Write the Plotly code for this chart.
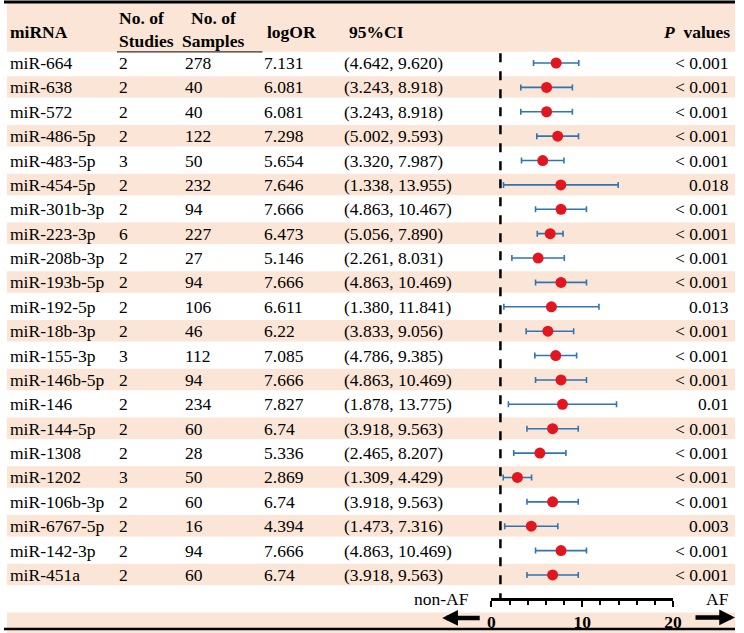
import plotly.graph_objects as go

mirna = ["miR-664", "miR-638", "miR-572", "miR-486-5p", "miR-483-5p", "miR-454-5p",
         "miR-301b-3p", "miR-223-3p", "miR-208b-3p", "miR-193b-5p", "miR-192-5p",
         "miR-18b-3p", "miR-155-3p", "miR-146b-5p", "miR-146", "miR-144-5p", "miR-1308",
         "miR-1202", "miR-106b-3p", "miR-6767-5p", "miR-142-3p", "miR-451a"]
n_studies = [2, 2, 2, 2, 3, 2, 2, 6, 2, 2, 2, 2, 3, 2, 2, 2, 2, 3, 2, 2, 2, 2]
n_samples = [278, 40, 40, 122, 50, 232, 94, 227, 27, 94, 106, 46, 112, 94, 234, 60, 28, 50, 60, 16, 94, 60]
log_or = [7.131, 6.081, 6.081, 7.298, 5.654, 7.646, 7.666, 6.473, 5.146, 7.666, 6.611,
          6.22, 7.085, 7.666, 7.827, 6.74, 5.336, 2.869, 6.74, 4.394, 7.666, 6.74]
ci_low = [4.642, 3.243, 3.243, 5.002, 3.320, 1.338, 4.863, 5.056, 2.261, 4.863, 1.380,
          3.833, 4.786, 4.863, 1.878, 3.918, 2.465, 1.309, 3.918, 1.473, 4.863, 3.918]
ci_high = [9.620, 8.918, 8.918, 9.593, 7.987, 13.955, 10.467, 7.890, 8.031, 10.469, 11.841,
           9.056, 9.385, 10.469, 13.775, 9.563, 8.207, 4.429, 9.563, 7.316, 10.469, 9.563]
p_values = ["< 0.001", "< 0.001", "< 0.001", "< 0.001", "< 0.001", "0.018", "< 0.001",
            "< 0.001", "< 0.001", "< 0.001", "0.013", "< 0.001", "< 0.001", "< 0.001",
            "0.01", "< 0.001", "< 0.001", "< 0.001", "< 0.001", "0.003", "< 0.001", "< 0.001"]
x_ticks = [0, 10, 20]
null_line = 1

W, H = 744, 633
FONT = "Liberation Serif"
FS = 17.5
PEACH = "#FBE5D6"
n = len(mirna)
rows = list(range(n))

fig = go.Figure()
fig.add_trace(go.Scatter(
    x=log_or, y=rows, mode="markers",
    marker=dict(color="#E3161F", size=11),
    error_x=dict(type="data", symmetric=False,
                 array=[h - m for h, m in zip(ci_high, log_or)],
                 arrayminus=[m - l for m, l in zip(log_or, ci_low)],
                 color="#2E75B6", thickness=1.6, width=3),
    cliponaxis=False, showlegend=False, hoverinfo="skip"))

shapes = []
# header background
shapes.append(dict(type="rect", xref="paper", yref="y", x0=0.004, x1=1, y0=-2.46, y1=-0.46,
                   fillcolor=PEACH, line_width=0, layer="below"))
for i in range(n + 2):
    if i % 2 == 1:
        shapes.append(dict(type="rect", xref="paper", yref="y", x0=0.004, x1=1,
                           y0=i - 0.46, y1=i + 0.42, fillcolor=PEACH, line_width=0, layer="below"))
# top / bottom rules
shapes.append(dict(type="line", xref="paper", yref="paper", x0=0, x1=1, y0=1 - 2 / H, y1=1 - 2 / H,
                   line=dict(color="black", width=3)))
shapes.append(dict(type="line", xref="paper", yref="paper", x0=0, x1=1, y0=1 - 629 / H, y1=1 - 629 / H,
                   line=dict(color="black", width=2.5)))
# underline under "No. of" columns
shapes.append(dict(type="line", xref="paper", yref="y", x0=115 / W, x1=263 / W, y0=-0.46, y1=-0.46,
                   line=dict(color="#333333", width=1.2)))
# null line
shapes.append(dict(type="line", xref="x", yref="y", x0=null_line, x1=null_line, y0=-0.4, y1=21.98,
                   line=dict(color="black", width=2.5, dash="dash")))

ann = []
def txt(x_px, y, s, anchor="left", bold=False, size=FS):
    if bold:
        s = "<b>" + s + "</b>"
    ann.append(dict(x=x_px / W, y=y, xref="paper", yref="y", text=s, showarrow=False,
                    xanchor=anchor, yanchor="middle", font=dict(family=FONT, size=size, color="black")))

# header
txt(4, -1.27, "miRNA", bold=True)
txt(115, -1.85, "No. of", bold=True)
txt(115, -0.92, "Studies", bold=True)
txt(213, -1.85, "No. of", anchor="center", bold=True)
txt(213, -0.92, "Samples", anchor="center", bold=True)
txt(266, -1.27, "logOR", bold=True)
txt(349, -1.27, "95%CI", bold=True)
txt(741, -1.27, "<i>P</i>  values", anchor="right", bold=True)

for i in rows:
    txt(4, i, mirna[i])
    txt(115, i, str(n_studies[i]))
    txt(182, i, str(n_samples[i]))
    txt(263, i, str(log_or[i]))
    txt(344, i, f"({ci_low[i]:.3f}, {ci_high[i]:.3f})")
    txt(740, i, p_values[i], anchor="right")

txt(445, 21.98, "non-AF", anchor="center")
txt(726, 21.98, "AF", anchor="center")

# arrows
ann.append(dict(x=446 / W, y=22.76, xref="paper", yref="y", ax=39, ay=0,
                axref="pixel", ayref="pixel", text="", showarrow=True,
                arrowhead=2, arrowsize=0.7, arrowwidth=4.5, arrowcolor="black"))
ann.append(dict(x=744 / W, y=22.74, xref="paper", yref="y", ax=-41, ay=0,
                axref="pixel", ayref="pixel", text="", showarrow=True,
                arrowhead=2, arrowsize=0.7, arrowwidth=4.5, arrowcolor="black"))

fig.update_layout(
    width=W, height=H, margin=dict(l=0, r=0, t=0, b=0),
    paper_bgcolor="white", plot_bgcolor="rgba(0,0,0,0)",
    shapes=shapes, annotations=ann,
    xaxis=dict(domain=[496 / W, 681 / W], range=[0, 20], anchor="free", position=1 - 599 / H,
               showline=True, linecolor="black", linewidth=2.5, showgrid=False, zeroline=False,
               ticks="outside", ticklen=6, tickwidth=2, tickcolor="black",
               tickvals=x_ticks, ticktext=["<b>%d</b>" % v for v in x_ticks],
               tickfont=dict(family=FONT, size=FS, color="black"),
               minor=dict(dtick=2, ticks="outside", ticklen=4, tickwidth=2, tickcolor="black"),
               fixedrange=True),
    yaxis=dict(domain=[0, 1], range=[23.38, -2.584], visible=False, fixedrange=True),
)

fig.write_html("out.html", config={"displayModeBar": False},
               post_script="document.body.style.margin='0';document.body.style.overflow='hidden';")
